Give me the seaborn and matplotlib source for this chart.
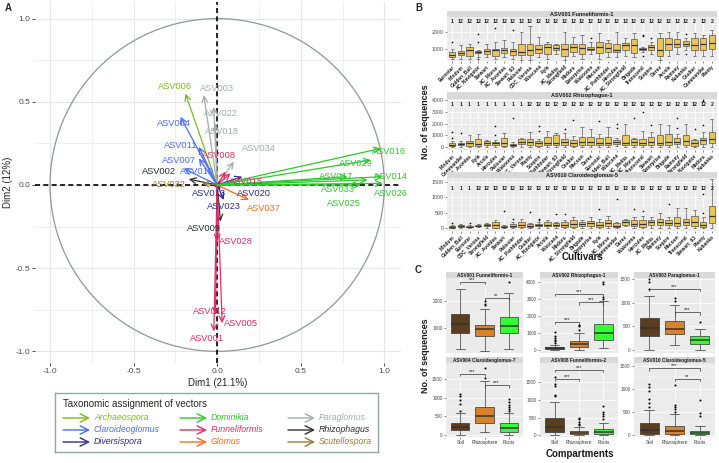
import numpy as np
import pandas as pd
import matplotlib
matplotlib.use('Agg')
import matplotlib.pyplot as plt
import seaborn as sns
from matplotlib.patches import Circle

# ---------------- data: panel A (PCA variable vectors) ----------------
genus_order = ['Archaeospora', 'Claroideoglomus', 'Diversispora',
               'Dominikia', 'Funneliformis', 'Glomus',
               'Paraglomus', 'Rhizophagus', 'Scutellospora']
genus_colors = {
    'Archaeospora': '#7DBB1A', 'Claroideoglomus': '#4A6CF7', 'Diversispora': '#2C2A94',
    'Dominikia': '#2FC72F', 'Funneliformis': '#DD2E65', 'Glomus': '#FF6A1A',
    'Paraglomus': '#A3ADA9', 'Rhizophagus': '#2B2F2E', 'Scutellospora': '#9A7A3C',
}
asv_ids = ['ASV006', 'ASV003', 'ASV022', 'ASV018', 'ASV034', 'ASV004', 'ASV011', 'ASV007',
           'ASV010', 'ASV002', 'ASV032', 'ASV008', 'ASV015', 'ASV013', 'ASV020', 'ASV023',
           'ASV037', 'ASV009', 'ASV028', 'ASV012', 'ASV005', 'ASV001', 'ASV016', 'ASV029',
           'ASV017', 'ASV014', 'ASV033', 'ASV026', 'ASV025']
asv_genus = ['Archaeospora', 'Paraglomus', 'Paraglomus', 'Paraglomus', 'Paraglomus',
             'Claroideoglomus', 'Claroideoglomus', 'Claroideoglomus', 'Claroideoglomus',
             'Rhizophagus', 'Scutellospora', 'Funneliformis', 'Funneliformis',
             'Diversispora', 'Diversispora', 'Diversispora', 'Glomus', 'Rhizophagus',
             'Funneliformis', 'Funneliformis', 'Funneliformis', 'Funneliformis'] + ['Dominikia'] * 7
dim1 = [-0.19, -0.08, -0.02, -0.01, 0.10, -0.22, -0.11, -0.11, -0.20, -0.17, -0.09, 0.05, 0.08,
        0.02, 0.15, 0.04, 0.19, 0.02, 0.00, -0.01, 0.03, -0.02, 0.98, 0.92, 0.78, 0.99, 0.90,
        0.99, 0.86]
dim2 = [0.55, 0.54, 0.47, 0.37, 0.14, 0.41, 0.23, 0.16, 0.10, 0.035, 0.01, 0.08, 0.07, -0.03,
        0.05, -0.09, -0.09, -0.22, -0.34, -0.78, -0.83, -0.88, 0.22, 0.15, 0.05, 0.05, 0.03,
        0.01, 0.00]

# label placement (layout)
label_pos = {
    'ASV006': (-0.25, 0.59), 'ASV003': (0.0, 0.58), 'ASV022': (0.02, 0.43), 'ASV018': (0.03, 0.32),
    'ASV034': (0.25, 0.22), 'ASV004': (-0.26, 0.37), 'ASV011': (-0.22, 0.24), 'ASV007': (-0.23, 0.15),
    'ASV010': (-0.12, 0.08), 'ASV002': (-0.35, 0.08), 'ASV032': (-0.29, 0.0), 'ASV008': (0.01, 0.18),
    'ASV015': (0.17, 0.02), 'ASV013': (-0.05, -0.05), 'ASV020': (0.22, -0.05), 'ASV023': (0.04, -0.13),
    'ASV037': (0.28, -0.14), 'ASV009': (-0.08, -0.26), 'ASV028': (0.11, -0.34), 'ASV012': (-0.04, -0.76),
    'ASV005': (0.14, -0.83), 'ASV001': (-0.06, -0.92), 'ASV016': (1.03, 0.20), 'ASV029': (0.83, 0.13),
    'ASV017': (0.71, 0.05), 'ASV014': (1.04, 0.05), 'ASV033': (0.72, -0.03), 'ASV026': (1.04, -0.05),
    'ASV025': (0.76, -0.11),
}

# ---------------- data: panel B (cultivars) ----------------
b_titles = ['ASV001 Funneliformis-1', 'ASV002 Rhizophagus-1', 'ASV010 Claroideoglomus-5']
b1_cultivars = ['Eurostar', 'Mindum', 'Golden_Ball', 'AC_Navigator', 'Stewart', 'AC_Morse', 'AC_Avonlea',
                'Stewart_63', 'Pelissier', 'CDC_Verona', 'Wascana', 'Kyle', 'AC_Melita', 'Strongfield',
                'Medora', 'Enterprise', 'Wakooma', 'Macoun', 'AC_Pathfinder', 'Hercules', 'AC_Strongfield',
                'Brigade', 'Transcend', 'Sceptre', 'Durex', 'Arcola', 'Ramsey', 'Kubanka', 'Coulter',
                'Commander', 'Plenty']
b2_cultivars = ['Mindum', 'Commander', 'AC_Avonlea', 'Kyle', 'Arcola', 'Hercules', 'Pelissier', 'Wakooma',
                'CDC_Verona', 'Plenty', 'Sceptre', 'AC_Pathfinder', 'Stewart_63', 'AC_Strongfield', 'Coulter',
                'Macoun', 'Durex', 'Eurostar', 'Golden_Ball', 'Wascana', 'AC_Melita', 'AC_Morse', 'Transcend',
                'Stewart', 'Enterprise', 'Brigade', 'Ramsey', 'Strongfield', 'AC_Navigator', 'Medora', 'Kubanka']
b3_cultivars = ['Mindum', 'Golden_Ball', 'Eurostar', 'CDC_Verona', 'Strongfield', 'AC_Avonlea', 'Stewart',
                'Pelissier', 'AC_Pathfinder', 'Coulter', 'AC_Navigator', 'Arcola', 'Wascana', 'Medora',
                'AC_Strongfield', 'Brigade', 'Enterprise', 'Kyle', 'AC_Morse', 'Commander', 'Durex', 'Wakooma',
                'Hercules', 'AC_Melita', 'Ramsey', 'Sceptre', 'Macoun', 'Transcend', 'Stewart_63', 'Plenty',
                'Kubanka']

b1_lo = [400, 420, 380, 500, 500, 380, 500, 380, 350, 350, 500, 420, 700, 350, 600, 420, 700, 420, 500, 500,
         600, 500, 800, 700, 350, 600, 700, 900, 600, 600, 600]
b1_q1 = [520, 650, 600, 750, 700, 600, 750, 620, 650, 650, 750, 700, 900, 600, 800, 700, 900, 750, 800, 800,
         950, 750, 950, 900, 600, 950, 1100, 1150, 900, 950, 1000]
b1_med = [650, 750, 950, 800, 850, 950, 950, 850, 800, 950, 1000, 1100, 1050, 1000, 1100, 1050, 1000, 1100,
          1050, 950, 1200, 1200, 1000, 1100, 950, 1300, 1300, 1300, 1200, 1250, 1350]
b1_q3 = [800, 850, 1100, 850, 1000, 1000, 1050, 1000, 1300, 1300, 1200, 1300, 1200, 1300, 1250, 1300, 1100,
         1400, 1350, 1300, 1350, 1550, 1050, 1200, 1600, 1600, 1550, 1450, 1600, 1600, 1800]
b1_hi = [1000, 1200, 1300, 900, 1300, 1400, 1500, 1400, 2000, 2350, 1700, 1400, 1300, 2000, 1700, 1800, 1400,
         1900, 1500, 2000, 1600, 1900, 1100, 1400, 1900, 2000, 2000, 1600, 1900, 1800, 2100]
b1_out = [[1400], [], [], [1850, 1400, 420], [], [2200], [], [2100], [], [], [], [], [], [], [], [], [1600],
          [], [], [], [], [], [1800, 1750, 550], [1600], [], [], [], [1850, 700], [], [], []]
b1_groups = ['1'] + ['12'] * 27 + ['2', '12', '2']

b2_lo = [0] * 19 + [100] + [0] * 11
b2_q1 = [100, 150, 100, 50, 200, 150, 100, 50, 250, 200, 100, 200, 200, 200, 100, 200, 200, 150, 150, 250,
         150, 200, 150, 200, 150, 150, 250, 200, 100, 250, 300]
b2_med = [200, 250, 300, 250, 350, 300, 300, 150, 400, 400, 300, 300, 350, 400, 300, 450, 400, 350, 350, 400,
          350, 450, 300, 450, 350, 400, 400, 500, 300, 600, 650]
b2_q3 = [300, 350, 500, 700, 500, 400, 750, 250, 650, 650, 550, 850, 1000, 700, 600, 850, 850, 800, 850, 600,
         1000, 650, 650, 850, 1000, 1100, 750, 1000, 600, 800, 1300]
b2_hi = [500, 500, 1000, 1100, 600, 600, 1200, 400, 800, 1300, 700, 1400, 1200, 1200, 900, 1700, 1500, 1100,
         1700, 800, 2000, 800, 1400, 1300, 2000, 1900, 1100, 2000, 700, 1300, 2400]
b2_out = [[1300, 800], [1200], [], [], [], [1800, 1000], [], [2500], [], [], [1800, 1400], [], [], [1500],
          [2300], [], [], [2200], [], [1600, 2000], [], [2500], [3000], [1900], [], [], [1600, 2500], [],
          [1500], [4000, 3900, 1900], []]
b2_groups = ['1'] * 9 + ['12'] * 21 + ['2']

b3_lo = [0, 0, 0, 20, 0, 0, 0, 0, 0, 0, 0, 0, 0, 0, 0, 0, 0, 0, 0, 0, 50, 0, 0, 0, 0, 0, 0, 0, 0, 0, 0]
b3_q1 = [5, 30, 20, 50, 50, 10, 20, 20, 30, 20, 50, 60, 50, 40, 30, 60, 60, 40, 60, 20, 100, 50, 40, 100, 80,
         100, 50, 80, 50, 40, 150]
b3_med = [20, 50, 40, 70, 80, 100, 40, 70, 90, 60, 80, 100, 80, 100, 120, 120, 150, 100, 150, 70, 180, 120,
          130, 180, 200, 160, 150, 200, 200, 100, 400]
b3_q3 = [50, 80, 60, 100, 120, 200, 60, 130, 200, 120, 120, 180, 150, 180, 250, 200, 220, 200, 250, 150, 250,
         250, 250, 250, 300, 250, 350, 300, 400, 200, 700]
b3_hi = [100, 120, 100, 130, 150, 250, 80, 200, 300, 150, 200, 250, 200, 250, 350, 250, 350, 300, 400, 200,
         300, 350, 400, 350, 500, 350, 650, 650, 600, 350, 1600]
b3_out = [[150], [], [150], [], [], [], [550], [300], [], [520], [300, 250], [], [450], [450], [], [], [],
          [620], [], [950], [], [620], [550], [], [], [780], [], [], [], [500, 1100], []]
b3_groups = ['1'] * 3 + ['12'] * 27 + ['2']

# ---------------- data: panel C (compartments) ----------------
c_titles = ['ASV001 Funneliformis-1', 'ASV002 Rhizophagus-1', 'ASV003 Paraglomus-1',
            'ASV004 Claroideoglomus-7', 'ASV008 Funneliformis-2', 'ASV010 Claroideoglomus-5']
compartments = ['Soil', 'Rhizosphere', 'Roots']
c_lo = [[200, 150, 200], [0, 0, 100], [0, 100, 0], [0, 80, 0], [0, 0, 0], [0, 0, 0]]
c_q1 = [[800, 700, 800], [50, 200, 600], [300, 330, 120], [130, 330, 90], [100, 20, 30], [20, 20, 10]]
c_med = [[1150, 950, 1070], [100, 350, 1000], [470, 450, 220], [220, 500, 180], [230, 60, 80], [100, 90, 40]]
c_q3 = [[1500, 1120, 1420], [150, 550, 1500], [680, 620, 300], [320, 760, 310], [480, 110, 180], [250, 200, 90]]
c_hi = [[2450, 1700, 2300], [300, 1000, 2900], [1150, 950, 450], [600, 1450, 600], [950, 230, 350],
        [550, 450, 200]]
c_out = [
    [[], [1850, 1900, 2000], [2700]],
    [[400, 500, 600, 700, 800, 1050], [1200, 1400, 1450], [3000, 3100, 3900, 4000]],
    [[1300, 1450, 1500], [1050, 1100], [600]],
    [[650, 850, 950, 1050, 1100], [1550, 1800], [650, 700, 750, 800, 900, 980]],
    [[1100, 1150, 1400, 1450, 1650], [280, 320, 380, 450, 500], [450, 550, 600, 650, 820]],
    [[600, 700, 780, 950, 1050, 1100], [500, 560, 600, 650, 1080], [420, 480, 750]],
]
c_sig = [
    [(0, 1, 2700, '***'), (1, 2, 2100, '**')],
    [(0, 1, 1650, '***'), (0, 2, 3300, '***'), (1, 2, 2800, '***')],
    [(0, 2, 1300, '***'), (1, 2, 800, '***')],
    [(0, 1, 1650, '***'), (1, 2, 1340, '***')],
    [(0, 1, 1600, '***'), (0, 2, 1850, '***')],
    [(0, 2, 1450, '***'), (1, 2, 1220, '**')],
]
c_yticks = [[1000, 2000], [0, 1000, 2000, 3000, 4000], [0, 500, 1000, 1500],
            [0, 500, 1000, 1500], [0, 500, 1000, 1500], [0, 500, 1000, 1500]]

# ---------------- styling / layout ----------------
sns.set_theme(style='white')
plt.rcParams['font.family'] = ['Liberation Sans', 'DejaVu Sans']

W, H = 719, 463
fig = plt.figure(figsize=(W / 100, H / 100), dpi=100)


def px_axes(x0, y0, x1, y1):
    return fig.add_axes([x0 / W, 1 - y1 / H, (x1 - x0) / W, (y1 - y0) / H])


def strip(x0, y0, x1, y1, title, fs):
    sax = px_axes(x0, y0, x1, y1)
    sax.set_facecolor('#D9D9D9')
    sax.set_xticks([])
    sax.set_yticks([])
    for s in sax.spines.values():
        s.set_visible(False)
    sax.text(0.5, 0.45, title, ha='center', va='center', fontsize=fs, fontweight='bold',
             color='#1A1A1A', transform=sax.transAxes)


def box_panel(ax, labels, lo, q1, med, q3, hi, outliers, ylim, yticks, palette=None, color=None,
              lw=0.45, pt=1.5, fs=3.8):
    frame = pd.DataFrame({'group': np.repeat(labels, 5),
                          'value': np.column_stack([lo, q1, med, q3, hi]).ravel()})
    kw = dict(data=frame, x='group', y='value', order=labels, whis=(0, 100), width=0.75,
              linewidth=lw, linecolor='#333333', fliersize=0, saturation=1, ax=ax,
              medianprops={'linewidth': lw * 2.2})
    if palette is not None:
        sns.boxplot(hue='group', palette=palette, legend=False, **kw)
    else:
        sns.boxplot(color=color, **kw)
    pts = pd.DataFrame([(g, v) for g, vals in zip(labels, outliers) for v in vals],
                       columns=['group', 'value'])
    sns.stripplot(data=pts, x='group', y='value', order=labels, jitter=False, color='black',
                  size=pt, ax=ax, zorder=5)
    ax.set_xlim(-0.6, len(labels) - 0.4)
    ax.set_ylim(*ylim)
    ax.set_facecolor('#EBEBEB')
    ax.set_yticks(yticks)
    ax.set_yticks([(a + b) / 2 for a, b in zip(yticks[:-1], yticks[1:])], minor=True)
    ax.grid(True, which='major', color='white', lw=0.6)
    ax.grid(True, which='minor', axis='y', color='white', lw=0.3)
    ax.set_axisbelow(True)
    for s in ax.spines.values():
        s.set_visible(False)
    ax.set_xlabel('')
    ax.set_ylabel('')
    ax.tick_params(axis='both', which='major', length=1.5, width=0.4, color='#333333', pad=1,
                   bottom=True, left=True, labelsize=fs, labelcolor='#4D4D4D')
    ax.tick_params(axis='both', which='minor', length=0)


# ---------------- panel A ----------------
ax = px_axes(35, 2, 401, 363)
ax.set_xlim(-1.09, 1.10)
ax.set_ylim(-1.07, 1.10)
ax.set_xticks([-1, -0.5, 0, 0.5, 1])
ax.set_yticks([-1, -0.5, 0, 0.5, 1])
ax.set_xticklabels(['-1.0', '-0.5', '0.0', '0.5', '1.0'])
ax.set_yticklabels(['-1.0', '-0.5', '0.0', '0.5', '1.0'])
ax.set_xticks([-0.75, -0.25, 0.25, 0.75], minor=True)
ax.set_yticks([-0.75, -0.25, 0.25, 0.75], minor=True)
ax.grid(True, which='major', color='#E6E6E6', lw=0.8)
ax.grid(True, which='minor', color='#EDEDED', lw=0.6)
ax.set_axisbelow(True)
for s in ax.spines.values():
    s.set_visible(False)
ax.tick_params(which='major', length=2, width=0.6, color='#333333', pad=1.5, bottom=True, left=True,
               labelsize=6, labelcolor='#4D4D4D')
ax.tick_params(which='minor', length=0)
ax.add_patch(Circle((0, 0), 1, fill=False, color='#8C9A94', lw=0.9, zorder=2))
ax.axhline(0, color='black', ls=(0, (3, 2)), lw=1.2, zorder=3)
ax.axvline(0, color='black', ls=(0, (3, 2)), lw=1.2, zorder=3)
for name, g, x, y in zip(asv_ids, asv_genus, dim1, dim2):
    col = genus_colors[g]
    ax.annotate('', xy=(x, y), xytext=(0, 0), zorder=4,
                arrowprops=dict(arrowstyle='->,head_length=0.35,head_width=0.17', color=col, lw=0.9,
                                shrinkA=0, shrinkB=0))
    lx, ly = label_pos[name]
    ax.text(lx, ly, name, color=col, fontsize=6.7, ha='center', va='center', zorder=5)
ax.set_xlabel('Dim1 (21.1%)', fontsize=7, labelpad=2)
ax.set_ylabel('Dim2 (12%)', fontsize=7, labelpad=2)

# legend box
lax = px_axes(55, 393, 378, 452)
lax.set_xlim(55, 378)
lax.set_ylim(452, 393)
lax.set_xticks([])
lax.set_yticks([])
lax.set_facecolor('white')
for s in lax.spines.values():
    s.set_color('#8FA8A0')
    s.set_linewidth(1.0)
lax.text(63, 404, 'Taxonomic assignment of vectors', fontsize=7, va='center', ha='left')
col_x = [63, 180, 288]
row_y = [418, 430, 442]
for k, g in enumerate(genus_order):
    cx, ry = col_x[k // 3], row_y[k % 3]
    lax.annotate('', xy=(cx + 27, ry), xytext=(cx, ry),
                 arrowprops=dict(arrowstyle='->,head_length=0.5,head_width=0.25',
                                 color=genus_colors[g], lw=1.0, shrinkA=0, shrinkB=0))
    lax.text(cx + 31, ry, g, color=genus_colors[g], fontsize=6.3, style='italic', va='center', ha='left')

# ---------------- panel B ----------------
b_rows = [(11, 17, 61), (92, 99, 150), (172, 178, 231)]
b_data = [
    (b1_cultivars, b1_lo, b1_q1, b1_med, b1_q3, b1_hi, b1_out, b1_groups, (280, 2850), [1000, 2000], 2600),
    (b2_cultivars, b2_lo, b2_q1, b2_med, b2_q3, b2_hi, b2_out, b2_groups, (-260, 4090),
     [0, 1000, 2000, 3000, 4000], 3650),
    (b3_cultivars, b3_lo, b3_q1, b3_med, b3_q3, b3_hi, b3_out, b3_groups, (-100, 1630),
     [0, 500, 1000, 1500], 1300),
]
for (s0, p0, p1), title, d in zip(b_rows, b_titles, b_data):
    labels, lo, q1, med, q3, hi, out, groups, ylim, yt, gy = d
    strip(447, s0, 717, p0, title, 4)
    bax = px_axes(447, p0, 717, p1)
    box_panel(bax, labels, lo, q1, med, q3, hi, out, ylim, yt, color='#EBC55A', lw=0.4, pt=1.2, fs=3.8)
    bax.set_xticks(range(len(labels)))
    bax.set_xticklabels(labels, rotation=45, ha='right', rotation_mode='anchor', fontsize=3.5,
                        fontweight='bold', color='#1A1A1A')
    for i, g in enumerate(groups):
        bax.text(i, gy, g, ha='center', va='center', fontsize=3.8, fontweight='bold', color='#1A1A1A')

# ---------------- panel C ----------------
c_cols = [(446, 523), (540, 618), (634, 715)]
c_rows = [(272, 278, 353), (357, 363, 437)]
c_ylims = [(70, 2850), (-180, 4240), (-65, 1530), (-55, 1945), (-57, 2057), (-45, 1565)]
c_palette = {'Soil': '#5C3D1E', 'Rhizosphere': '#D9822B', 'Roots': '#33FF33'}
for k, title in enumerate(c_titles):
    x0, x1 = c_cols[k % 3]
    s0, p0, p1 = c_rows[k // 3]
    strip(x0, s0, x1, p0, title, 3.4)
    cax = px_axes(x0, p0, x1, p1)
    box_panel(cax, compartments, c_lo[k], c_q1[k], c_med[k], c_q3[k], c_hi[k], c_out[k], c_ylims[k],
              c_yticks[k], palette=c_palette, lw=0.5, pt=1.5, fs=3.4)
    span = c_ylims[k][1] - c_ylims[k][0]
    for i, j, y, lab in c_sig[k]:
        cax.plot([i, i, j, j], [y - span * 0.03, y, y, y - span * 0.03], color='#333333', lw=0.5)
        cax.text((i + j) / 2, y, lab, ha='center', va='bottom', fontsize=4, color='#1A1A1A')
    if k < 3:
        cax.tick_params(axis='x', bottom=False, labelbottom=False)
    else:
        cax.tick_params(axis='x', labelsize=3.3, labelcolor='#333333')

# ---------------- figure labels ----------------
fig.text(5 / W, 1 - 8 / H, 'A', fontsize=7, fontweight='bold', va='center')
fig.text(415 / W, 1 - 8 / H, 'B', fontsize=7, fontweight='bold', va='center')
fig.text(415 / W, 1 - 270 / H, 'C', fontsize=7, fontweight='bold', va='center')
fig.text(425 / W, 1 - 122 / H, 'No. of sequences', rotation=90, fontsize=6.5, fontweight='bold',
         ha='center', va='center', color='#1A1A1A')
fig.text(425 / W, 1 - 356 / H, 'No. of sequences', rotation=90, fontsize=6.5, fontweight='bold',
         ha='center', va='center', color='#1A1A1A')
fig.text(582 / W, 1 - 257 / H, 'Cultivars', fontsize=7, fontweight='bold', ha='center', va='center',
         color='#1A1A1A')
fig.text(580 / W, 1 - 454 / H, 'Compartments', fontsize=7, fontweight='bold', ha='center', va='center',
         color='#1A1A1A')

fig.savefig('out.png', dpi=100, facecolor='white')
